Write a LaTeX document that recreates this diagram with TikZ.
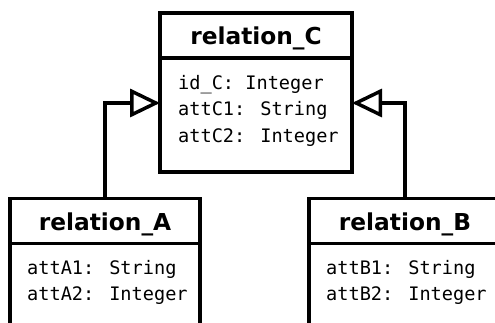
\documentclass[tikz,border=0pt]{standalone}
\usepackage{fontspec}
\usetikzlibrary{arrows.meta,positioning}
\newfontfamily\titlefont{DejaVu Sans}
\newfontfamily\attfont{DejaVu Sans Mono}

\begin{document}
\begin{tikzpicture}[x=1pt,y=-1pt,
  head/.style={draw,line width=3.5pt,minimum width=192pt,minimum height=45pt,inner sep=0pt,outer sep=0pt,
    text height=20pt,text depth=1pt,font=\titlefont\bfseries\fontsize{23.3}{26}\selectfont},
  body/.style={draw,line width=3.5pt,minimum width=192pt,inner sep=0pt,outer sep=0pt},
  atts/.style={align=left,inner sep=0pt,anchor=north west,font=\attfont\fontsize{18.6}{26.5}\selectfont},
  isa/.style={-{Triangle[open,length=30pt,width=28pt]},line width=3.5pt}]
  \useasboundingbox (0,0) rectangle (495,323);
  % superclass
  \node[head] (headC) at (256,35.5) {relation\_C};
  \node[body,minimum height=114pt,below=0pt of headC] (bodyC) {};
  \node[atts] (attsC) at (178,75) {id\_C: Integer\\attC1: String\\attC2: Integer};
  % subclasses
  \node[head,minimum width=190pt] (headA) at (105,221) {relation\_A};
  \node[body,minimum width=190pt,minimum height=110pt,below=0pt of headA] (bodyA) {};
  \node[atts] (attsA) at (27,260) {attA1: String\\attA2: Integer};
  \node[head] (headB) at (405,221) {relation\_B};
  \node[body,minimum height=110pt,below=0pt of headB] (bodyB) {};
  \node[atts] (attsB) at (326,260) {attB1: String\\attB2: Integer};
  % generalisation
  \draw[isa] (headA.north) |- ([yshift=12pt]bodyC.west);
  \draw[isa] (headB.north) |- ([yshift=12pt]bodyC.east);
\end{tikzpicture}
\end{document}
